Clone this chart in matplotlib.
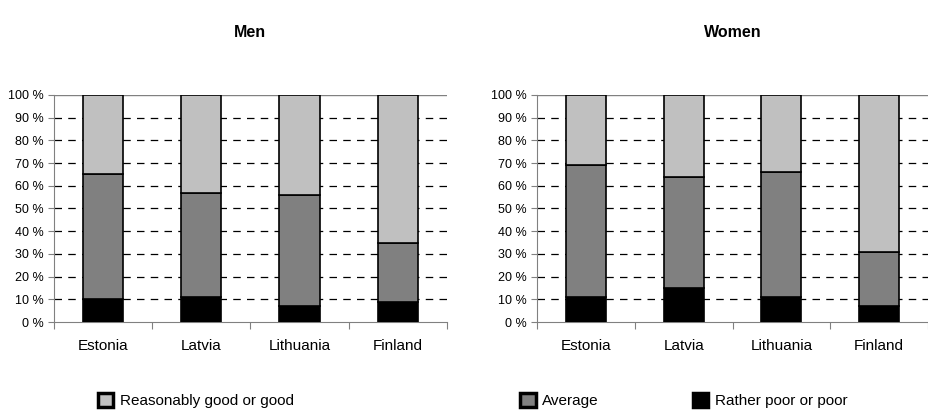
import numpy as np
import matplotlib.pyplot as plt
from matplotlib.patches import Patch

plt.rcParams['font.family'] = ['Liberation Sans', 'DejaVu Sans']

paesi = ["Estonia", "Latvia", "Lithuania", "Finland"]
# Men
men_poor = [10, 11, 7, 9]
men_avg = [55, 46, 49, 26]
men_good = [35, 43, 44, 65]
# Women
women_poor = [11, 15, 11, 7]
women_avg = [58, 49, 55, 24]
women_good = [31, 36, 34, 69]

serie_nomi = ["Reasonably good or good", "Average", "Rather poor or poor"]
colori = ("#c0c0c0", "#808080", "#000000")

fig = plt.figure(figsize=(9.29, 4.13), dpi=100)
ax1 = fig.add_axes([0.058, 0.2203, 0.423, 0.55])
ax2 = fig.add_axes([0.578, 0.2203, 0.421, 0.55])


def disegna(ax, poor, avg, good, titolo):
    x = np.arange(len(paesi))
    w = 0.41
    ax.bar(x, poor, w, color=colori[2], edgecolor="black", linewidth=1.2, zorder=3)
    ax.bar(x, avg, w, bottom=poor, color=colori[1], edgecolor="black", linewidth=1.2, zorder=3)
    ax.bar(x, good, w, bottom=np.array(poor) + np.array(avg), color=colori[0],
           edgecolor="black", linewidth=1.2, zorder=3)
    ax.set_xlim(-0.5, len(paesi) - 0.5)
    ax.set_ylim(0, 100)
    ax.set_yticks(np.arange(0, 101, 10))
    ax.set_yticklabels([f"{v} %" for v in range(0, 101, 10)], fontsize=9)
    for v in range(10, 100, 10):
        ax.axhline(v, color="black", linestyle=(0, (6, 5)), linewidth=0.9, zorder=1)
    ax.axhline(100, color="#808080", linewidth=1.0, zorder=1)
    ax.set_xticks(np.arange(-0.5, len(paesi), 1))
    ax.set_xticklabels([])
    ax.set_xticks(x, minor=True)
    ax.set_xticklabels(paesi, minor=True, fontsize=11)
    ax.tick_params(axis="x", which="minor", length=0, pad=12)
    ax.tick_params(axis="x", which="major", direction="out", length=5, color="#808080")
    ax.tick_params(axis="y", direction="out", length=4, color="#808080")
    for s in ("top", "right"):
        ax.spines[s].set_visible(False)
    ax.spines["left"].set_color("#808080")
    ax.spines["bottom"].set_color("#808080")
    ax.set_title(titolo, fontsize=11.5, fontweight="bold", pad=42)


disegna(ax1, men_poor, men_avg, men_good, "Men")
disegna(ax2, women_poor, women_avg, women_good, "Women")

# Legenda: tre voci separate
posizioni = [0.105, 0.560, 0.746]
for i, nome in enumerate(serie_nomi):
    h = Patch(facecolor=colori[i], edgecolor="black", linewidth=2.5)
    fig.legend(handles=[h], labels=[nome], loc="center left",
               bbox_to_anchor=(posizioni[i], 0.03), frameon=False, fontsize=11,
               handlelength=1.0, handleheight=1.0, handletextpad=0.45, borderpad=0,
               borderaxespad=0)

fig.savefig("out.png", dpi=100)
